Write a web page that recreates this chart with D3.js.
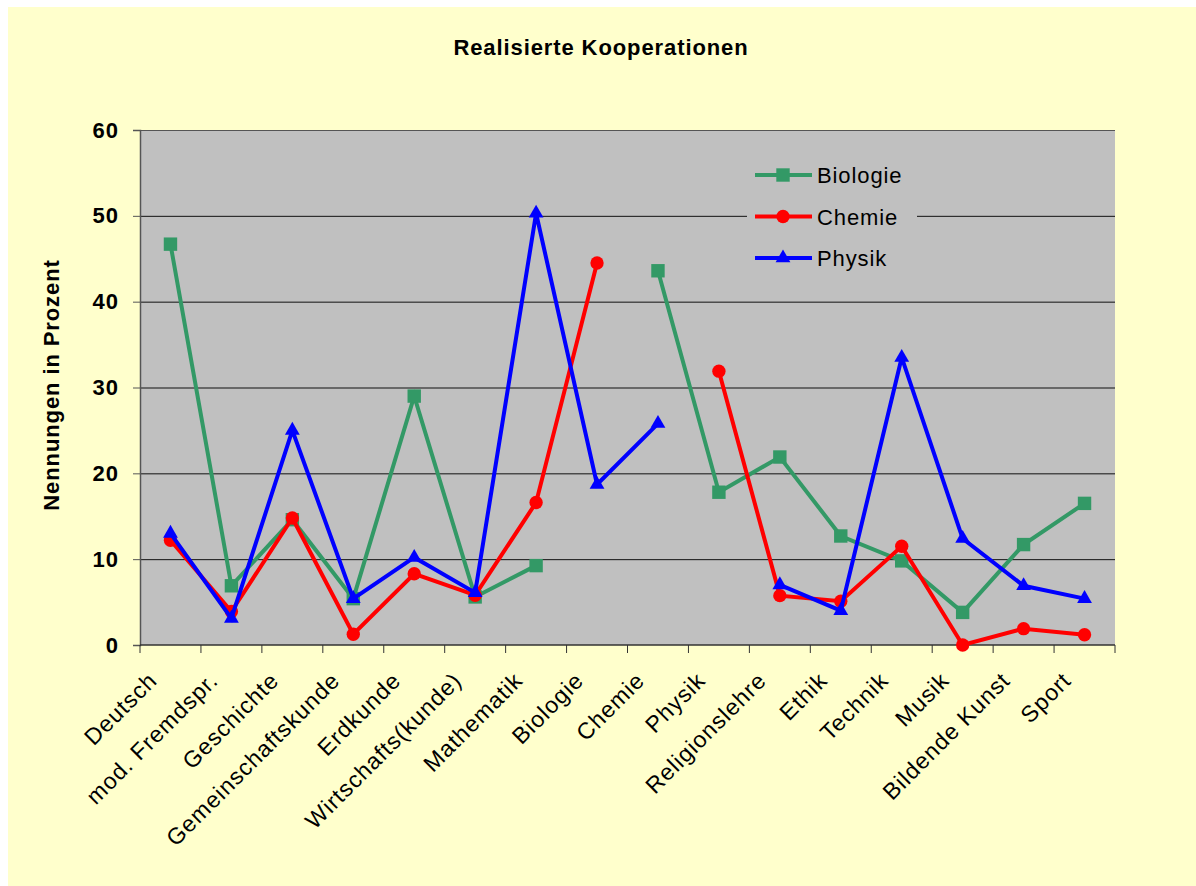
<!DOCTYPE html>
<html>
<head>
<meta charset="utf-8">
<script src="https://cdn.jsdelivr.net/npm/d3@7/dist/d3.min.js"></script>
<style>
  html, body { margin: 0; padding: 0; overflow: hidden; background: #ffffff; }
  svg { display: block; }
  svg text { font-family: "Liberation Sans", Arial, sans-serif; fill: #000; }
</style>
</head>
<body>
<div id="chart"></div>
<script>
// subjects on the x axis
var categories = ["Deutsch", "mod. Fremdspr.", "Geschichte", "Gemeinschaftskunde", "Erdkunde",
    "Wirtschafts(kunde)", "Mathematik", "Biologie", "Chemie", "Physik", "Religionslehre",
    "Ethik", "Technik", "Musik", "Bildende Kunst", "Sport"];

// percentages per series (null = no value for own subject)
var biologie = [46.7, 6.9, 14.6, 5.4, 29.0, 5.6, 9.25, null, 43.6, 17.8, 21.9, 12.7, 9.8, 3.8, 11.7, 16.5];
var chemie   = [12.2, 3.9, 14.8, 1.25, 8.3, 5.8, 16.6, 44.5, null, 31.9, 5.75, 5.1, 11.5, 0.0, 1.9, 1.2];
var physik   = [13.0, 3.1, 25.0, 5.4, 10.2, 6.1, 50.3, 18.7, 25.8, null, 7.0, 4.0, 33.5, 12.4, 6.9, 5.4];

var yTicks = [0, 10, 20, 30, 40, 50, 60];

var series = [
    {name: "Biologie", values: biologie, color: "#339966", symbol: d3.symbolSquare, size: 180},
    {name: "Chemie", values: chemie, color: "#ff0000", symbol: d3.symbolCircle, size: 140},
    {name: "Physik", values: physik, color: "#0000ff", symbol: d3.symbolTriangle, size: 95}
];

var W = 1196, H = 886;
var margin = {top: 130, right: 81, bottom: 241, left: 140};
var width = W - margin.left - margin.right;
var height = H - margin.top - margin.bottom;

var svg = d3.select("#chart").append("svg")
    .attr("width", W)
    .attr("height", H);

// yellow chart area
svg.append("rect")
    .attr("x", 8).attr("y", 7)
    .attr("width", W - 8).attr("height", H - 7)
    .attr("fill", "#ffffcc");

svg.append("text")
    .attr("x", 601)
    .attr("y", 55)
    .attr("text-anchor", "middle")
    .style("font-size", "22px")
    .style("font-weight", "bold")
    .style("letter-spacing", "0.9px")
    .text("Realisierte Kooperationen");

var g = svg.append("g")
    .attr("transform", "translate(" + margin.left + "," + margin.top + ")");

var xScale = d3.scaleBand().domain(categories).range([0, width]).padding(0);
var yScale = d3.scaleLinear().domain([0, 60]).range([height, 0]);

g.append("rect")
    .attr("width", width)
    .attr("height", height)
    .attr("fill", "#c0c0c0");

// gridlines
g.selectAll(".grid")
    .data(yTicks.filter(function(d) { return d > 0; }))
    .enter().append("line")
    .attr("class", "grid")
    .attr("x1", 0)
    .attr("x2", width)
    .attr("y1", function(d) { return yScale(d) + 0.5; })
    .attr("y2", function(d) { return yScale(d) + 0.5; })
    .attr("stroke", function(d) { return d === 60 ? "#555" : "#111"; })
    .attr("stroke-width", 1);

// y axis
var yAxis = d3.axisLeft(yScale).tickValues(yTicks).tickSize(7).tickPadding(14);
var gY = g.append("g").attr("class", "axis axis--y").call(yAxis);
gY.select(".domain").attr("stroke", "#555").attr("stroke-width", 1.5);
gY.selectAll(".tick line").attr("stroke", "#555");
gY.selectAll("text")
    .style("font-size", "22px")
    .style("font-weight", "bold")
    .style("letter-spacing", "1px")
    .attr("font-family", null);

// x axis: ticks on category boundaries
var gX = g.append("g")
    .attr("class", "axis axis--x")
    .attr("transform", "translate(0," + height + ")");
gX.append("line")
    .attr("x1", 0).attr("x2", width)
    .attr("y1", 0).attr("y2", 0)
    .attr("stroke", "#333").attr("stroke-width", 1.5);
var bounds = categories.map(function(c) { return xScale(c); }).concat([width]);
gX.selectAll(".xtick")
    .data(bounds)
    .enter().append("line")
    .attr("class", "xtick")
    .attr("x1", function(d) { return d; })
    .attr("x2", function(d) { return d; })
    .attr("y1", 0).attr("y2", 8)
    .attr("stroke", "#333");
gX.selectAll(".xlabel")
    .data(categories)
    .enter().append("text")
    .attr("class", "xlabel")
    .attr("text-anchor", "end")
    .attr("transform", function(d) {
        var cx = xScale(d) + xScale.bandwidth() / 2 - 12;
        return "translate(" + cx + ",37) rotate(-45)";
    })
    .style("font-size", "23px")
    .style("letter-spacing", "1px")
    .text(function(d) { return d; });

// y axis title
svg.append("text")
    .attr("transform", "translate(59,385) rotate(-90)")
    .attr("text-anchor", "middle")
    .style("font-size", "22px")
    .style("font-weight", "bold")
    .style("letter-spacing", "0.9px")
    .text("Nennungen in Prozent");

// lines + markers
var line = d3.line()
    .defined(function(d) { return d !== null; })
    .x(function(d, i) { return xScale(categories[i]) + xScale.bandwidth() / 2; })
    .y(function(d) { return yScale(d); });

series.forEach(function(s) {
    var gs = g.append("g").attr("class", "series");
    gs.append("path")
        .datum(s.values)
        .attr("fill", "none")
        .attr("stroke", s.color)
        .attr("stroke-width", 4)
        .attr("stroke-linejoin", "miter")
        .attr("d", line);
    gs.selectAll(".marker")
        .data(s.values.map(function(v, i) { return {v: v, c: categories[i]}; })
            .filter(function(d) { return d.v !== null; }))
        .enter().append("path")
        .attr("class", "marker")
        .attr("d", d3.symbol().type(s.symbol).size(s.size))
        .attr("transform", function(d) {
            return "translate(" + (xScale(d.c) + xScale.bandwidth() / 2) + "," + yScale(d.v) + ")";
        })
        .attr("fill", s.color);
});

// legend
var legend = g.append("g")
    .attr("transform", "translate(" + (747 - margin.left) + "," + (150 - margin.top) + ")");
legend.append("rect")
    .attr("width", 170)
    .attr("height", 133)
    .attr("fill", "#c0c0c0");
series.forEach(function(s, i) {
    var ly = 25 + i * 41.5;
    legend.append("line")
        .attr("x1", 8).attr("x2", 65)
        .attr("y1", ly).attr("y2", ly)
        .attr("stroke", s.color)
        .attr("stroke-width", 4);
    legend.append("path")
        .attr("d", d3.symbol().type(s.symbol).size(s.size))
        .attr("transform", "translate(36," + ly + ")")
        .attr("fill", s.color);
    legend.append("text")
        .attr("x", 70)
        .attr("y", ly + 8)
        .style("font-size", "22px")
        .style("letter-spacing", "0.9px")
        .text(s.name);
});
</script>
</body>
</html>
